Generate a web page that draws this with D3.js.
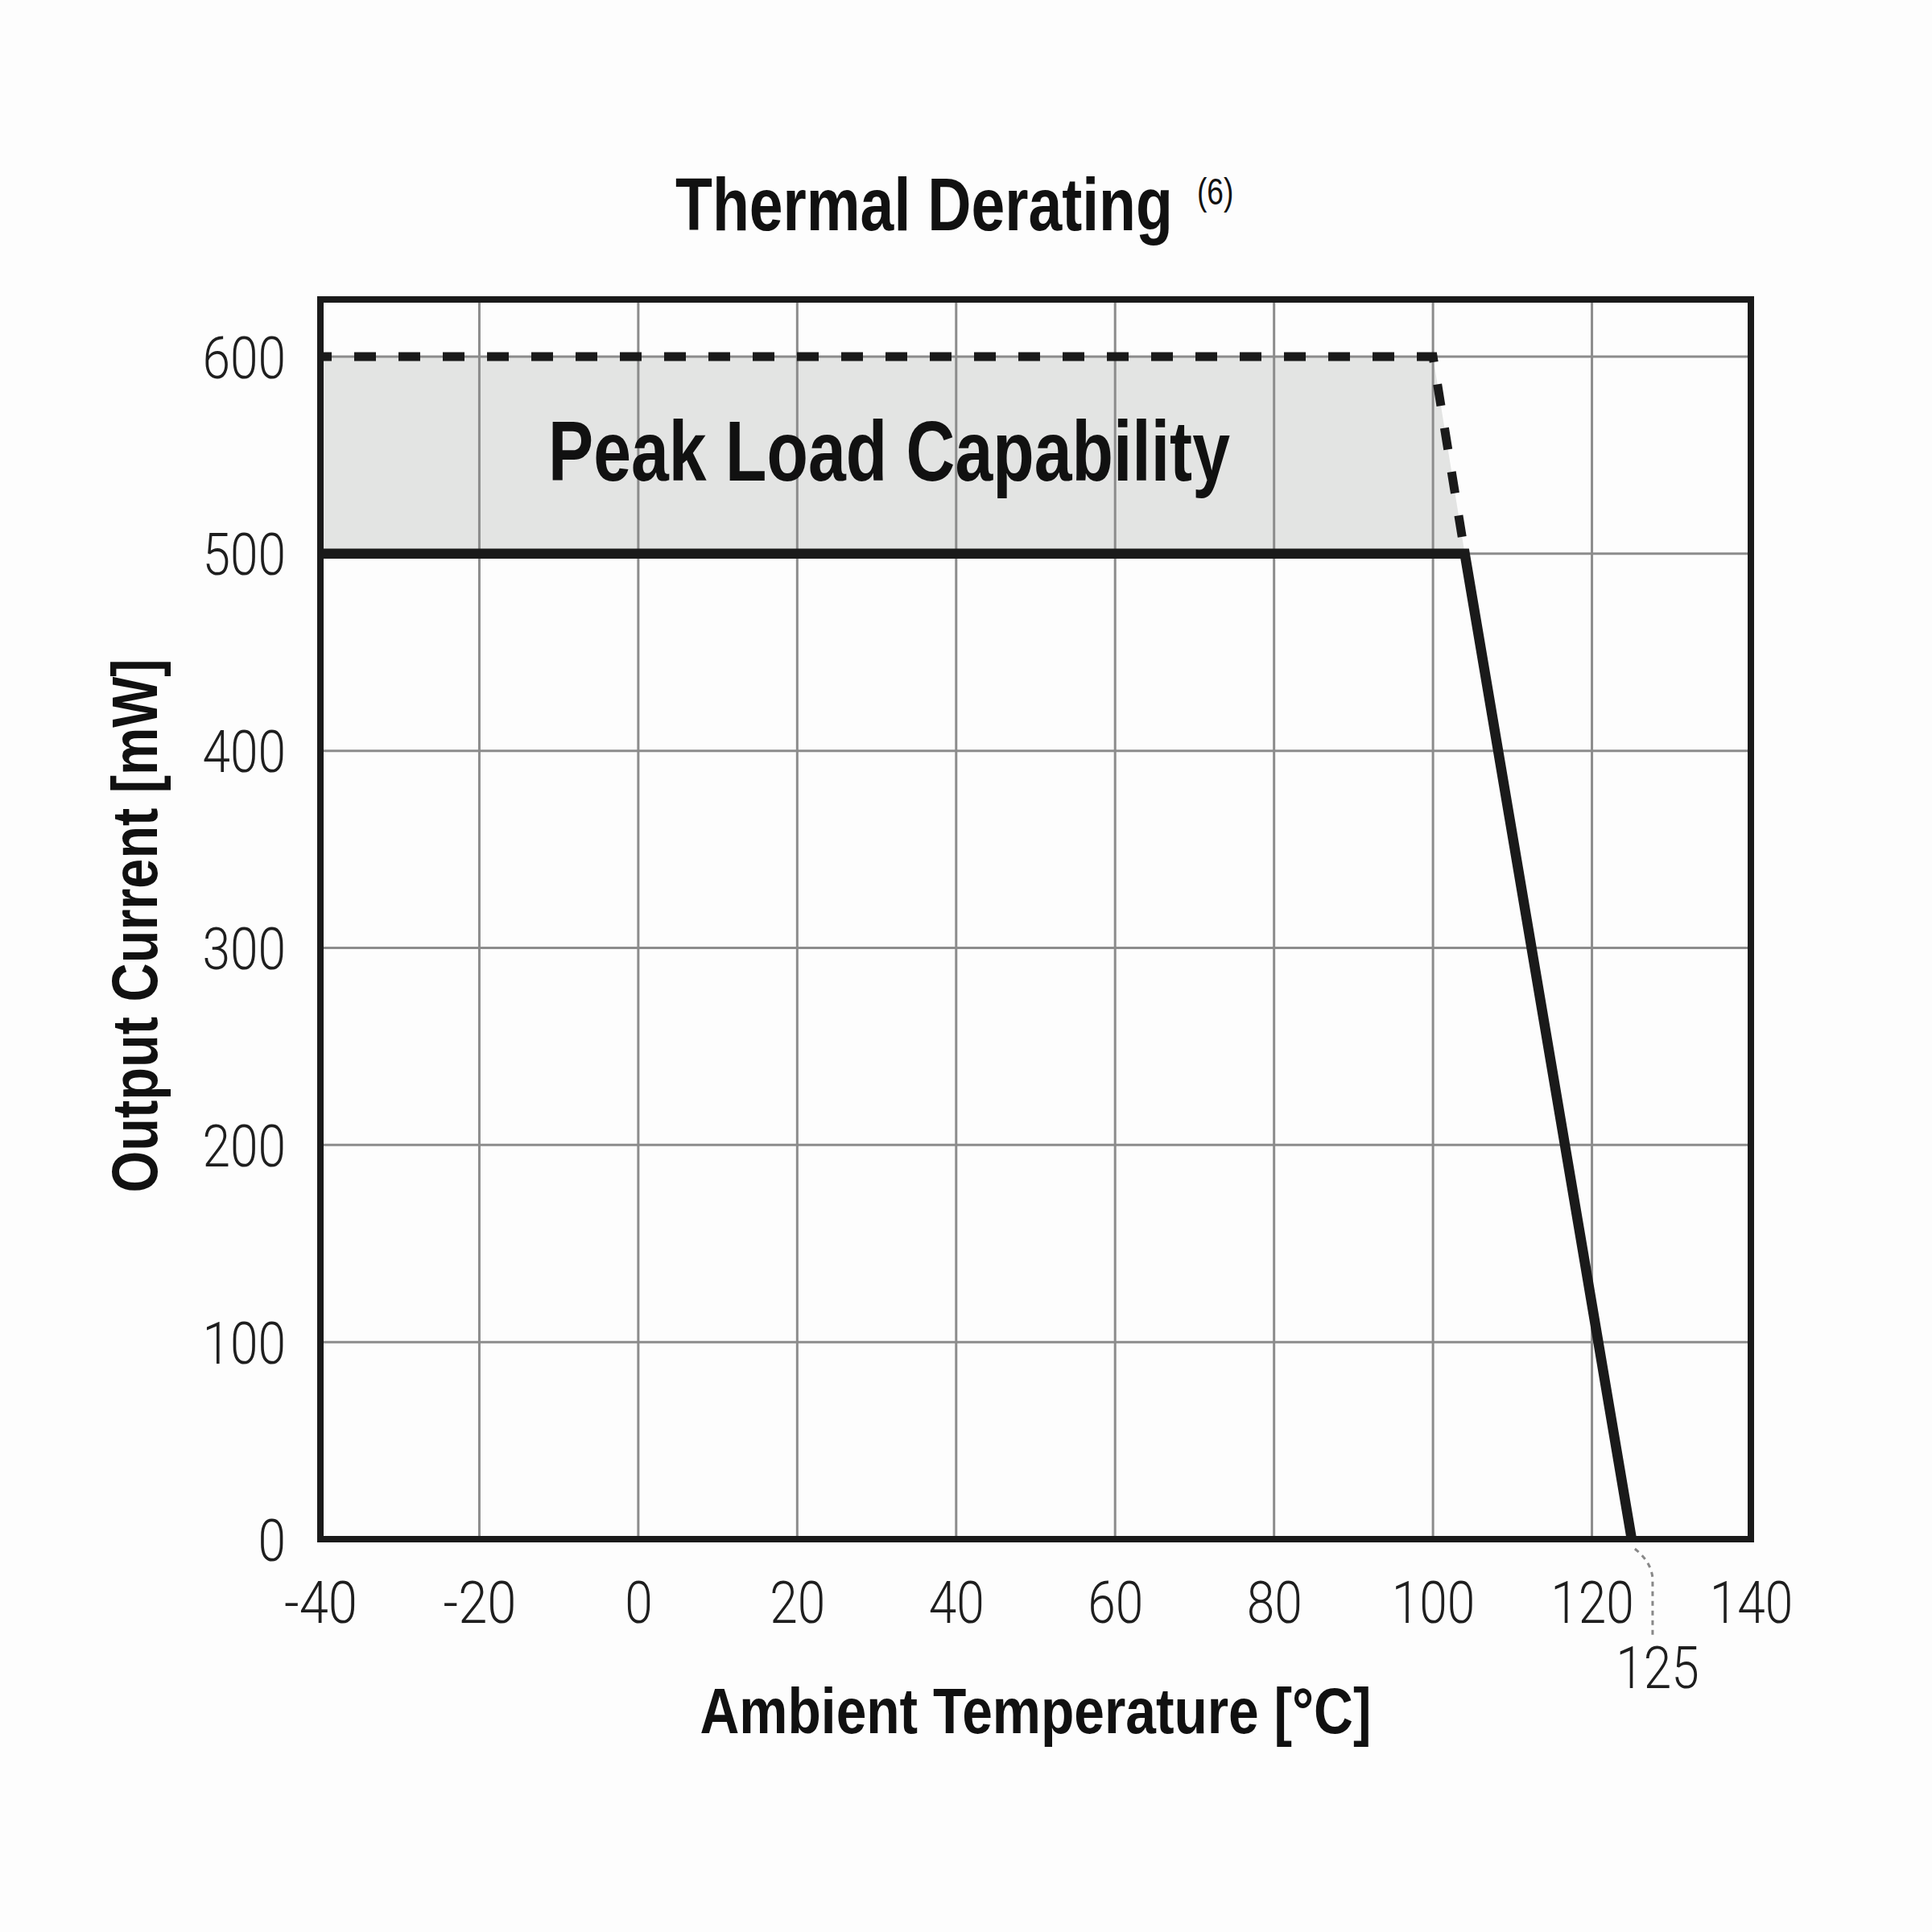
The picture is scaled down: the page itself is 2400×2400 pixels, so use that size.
<!DOCTYPE html>
<html><head><meta charset="utf-8">
<script src="https://cdn.jsdelivr.net/npm/d3@7"></script>
<style>body{margin:0;background:#fdfdfd}</style>
</head><body><svg id="c" width="2400" height="2400"></svg>
<script>
// ---- data ----
const xTicks = [-40,-20,0,20,40,60,80,100,120,140];
const yTicks = [0,100,200,300,400,500,600];
const xDomain = [-40,140];
const yDomain = [0,629];
const continuousTemp = [-40,104,125];
const continuousLoad = [500,500,0];
const peakTemp = [-40,100,104];
const peakLoad = [600,600,500];
const markerTemp = 125;
const markerLabel = "125";
const titleText = "Thermal Derating";
const titleNote = "(6)";
const xTitle = "Ambient Temperature [°C]";
const yTitle = "Output Current [mW]";
const areaLabel = "Peak Load Capability";

const FONT = "'Liberation Sans Narrow','Arial Narrow','Liberation Sans',Arial,sans-serif";
const TICKFONT = "Roboto,'Liberation Sans',Arial,sans-serif";
const svg = d3.select("#c");
svg.append("rect").attr("width",2400).attr("height",2400).attr("fill","#fdfdfd");

const x = d3.scaleLinear().domain(xDomain).range([398,2175]);
const y = d3.scaleLinear().domain(yDomain).range([1912,372]);

const cont = continuousTemp.map((t,i)=>[t,continuousLoad[i]]);
const peak = peakTemp.map((t,i)=>[t,peakLoad[i]]);

// width of a tick label in the condensed light face
const labelWidth = s => [...s].reduce((a,c)=>a+(c==="-"?22:34.5),0);

// peak area fill
const poly = peak.concat([cont[1],cont[0]]);
svg.append("path")
  .attr("d", d3.line().x(d=>x(d[0])).y(d=>y(d[1]))(poly)+"Z")
  .attr("fill","#e3e4e3");

// grid
const g = svg.append("g");
g.selectAll(".vx").data(xTicks.slice(1,-1)).join("line")
  .attr("x1",d=>x(d)).attr("x2",d=>x(d)).attr("y1",y.range()[0]).attr("y2",y.range()[1])
  .attr("stroke","#8c8c8c").attr("stroke-width",3);
g.selectAll(".hy").data(yTicks.slice(1)).join("line")
  .attr("y1",d=>y(d)).attr("y2",d=>y(d)).attr("x1",x.range()[0]).attr("x2",x.range()[1])
  .attr("stroke","#8c8c8c").attr("stroke-width",3);

const line = d3.line().x(d=>x(d[0])).y(d=>y(d[1]));
// dashed peak line
svg.append("path").attr("d",line(peak)).attr("fill","none")
  .attr("stroke","#1a1a1a").attr("stroke-width",11)
  .attr("stroke-dasharray","27,28").attr("stroke-dashoffset",13);
// solid continuous line
svg.append("path").attr("d",line(cont)).attr("fill","none")
  .attr("stroke","#1a1a1a").attr("stroke-width",12.5).attr("stroke-linejoin","miter");

// frame
svg.append("rect").attr("x",x.range()[0]).attr("y",y.range()[1])
  .attr("width",x.range()[1]-x.range()[0]).attr("height",y.range()[0]-y.range()[1])
  .attr("fill","none").attr("stroke","#1a1a1a").attr("stroke-width",8);

// axes labels via d3 axes (no lines)
const fmt = d => String(d);
const xAxis = svg.append("g").attr("transform",`translate(0,${y(0)})`)
  .call(d3.axisBottom(x).tickValues(xTicks).tickSize(0).tickPadding(0).tickFormat(fmt));
xAxis.select(".domain").remove();
xAxis.selectAll("text").attr("font-family",TICKFONT).attr("font-weight",300).attr("font-size",72).attr("fill","#1e1e1e")
  .attr("dy",null).attr("y",104).attr("text-anchor","middle")
  .attr("textLength",d=>labelWidth(fmt(d))).attr("lengthAdjust","spacingAndGlyphs");

const yAxis = svg.append("g").attr("transform",`translate(${x(-40)},0)`)
  .call(d3.axisLeft(y).tickValues(yTicks).tickSize(0).tickPadding(0).tickFormat(fmt));
yAxis.select(".domain").remove();
yAxis.selectAll("text").attr("font-family",TICKFONT).attr("font-weight",300).attr("font-size",72).attr("fill","#1e1e1e")
  .attr("dy",null).attr("x",-43).attr("y",26).attr("text-anchor","end")
  .attr("textLength",d=>labelWidth(fmt(d))).attr("lengthAdjust","spacingAndGlyphs");

// 125 marker
const mx = x(markerTemp), my = y(0);
const p = d3.path();
p.moveTo(mx+4, my+12);
p.quadraticCurveTo(mx+24, my+28, mx+26, my+48);
p.lineTo(mx+26, my+122);
svg.append("path").attr("d",p.toString()).attr("fill","none")
  .attr("stroke","#888").attr("stroke-width",3).attr("stroke-dasharray","6,6");
svg.append("text").attr("x",mx+32).attr("y",my+185).attr("text-anchor","middle")
  .attr("font-family",TICKFONT).attr("font-weight",300).attr("font-size",72).attr("fill","#1e1e1e")
  .attr("textLength",labelWidth(markerLabel)).attr("lengthAdjust","spacingAndGlyphs")
  .text(markerLabel);

// title with superscript note as one text element
const title = svg.append("text")
  .attr("font-family",FONT).attr("font-weight","bold").attr("font-size",93).attr("fill","#111");
const t1 = title.append("tspan").text(titleText);
const t2 = title.append("tspan").attr("font-weight","normal").attr("font-size",46)
  .attr("dy",-32).text(titleNote);
const w1 = t1.node().getComputedTextLength();
const s = 618 / w1;
title.attr("transform",`translate(839,286) scale(${s},1)`);
t2.attr("dx",(1487-839)/s - w1 - (t2.node().getComputedTextLength()*0));

svg.append("text").attr("x",(x.range()[0]+x.range()[1])/2).attr("y",2153)
  .attr("text-anchor","middle")
  .attr("font-family",FONT).attr("font-weight","bold").attr("font-size",80).attr("fill","#111")
  .attr("textLength",834).attr("lengthAdjust","spacingAndGlyphs").text(xTitle);

svg.append("text").attr("transform","translate(195,1150) rotate(-90)")
  .attr("text-anchor","middle")
  .attr("font-family",FONT).attr("font-weight","bold").attr("font-size",80).attr("fill","#111")
  .attr("textLength",663).attr("lengthAdjust","spacingAndGlyphs").text(yTitle);

svg.append("text").attr("x",681).attr("y",597)
  .attr("font-family",FONT).attr("font-weight","bold").attr("font-size",106).attr("fill","#111")
  .attr("textLength",847).attr("lengthAdjust","spacingAndGlyphs").text(areaLabel);
</script></body></html>
